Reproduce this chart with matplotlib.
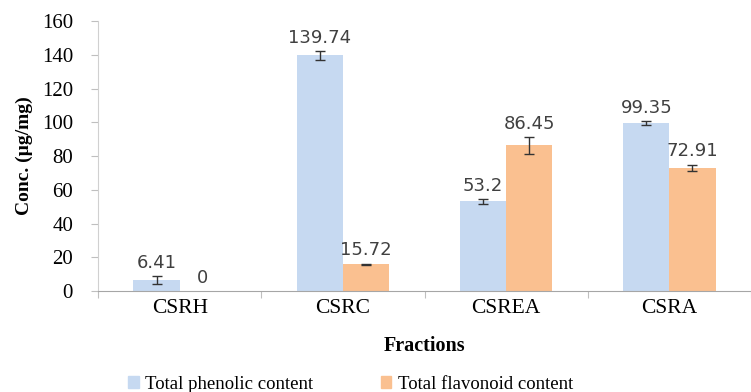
import numpy as np
import matplotlib.pyplot as plt
from matplotlib.patches import Patch

# Fractions and measured contents (ug/mg)
fractions = ["CSRH", "CSRC", "CSREA", "CSRA"]
phenolic = [6.41, 139.74, 53.2, 99.35]
phenolic_err = [2.3, 2.5, 1.5, 1.2]
flavonoid = [0, 15.72, 86.45, 72.91]
flavonoid_err = [0, 0.5, 5.0, 2.0]

blue = "#C6D9F1"
orange = "#FAC090"
serif = "Liberation Serif"

fig = plt.figure(figsize=(7.51, 3.92), dpi=100)
ax = fig.add_axes([0.1305, 0.2577, 0.8695, 0.6883])

x = np.arange(len(fractions))
w = 0.283
ax.bar(x - w / 2, phenolic, w, color=blue)
ax.bar(x + w / 2, flavonoid, w, color=orange)

# error bars only where there is a deviation
ekw = dict(fmt="none", ecolor="#333333", elinewidth=1, capsize=3.5, capthick=1)
for xs, vals, errs in [(x - w / 2, phenolic, phenolic_err), (x + w / 2, flavonoid, flavonoid_err)]:
    keep = [i for i in range(len(errs)) if errs[i] > 0]
    ax.errorbar(xs[keep], [vals[i] for i in keep], yerr=[errs[i] for i in keep], **ekw)

# value labels above each bar
for i in range(len(x)):
    ax.text(x[i] - w / 2, phenolic[i] + phenolic_err[i] + 2.5, f"{phenolic[i]:g}",
            ha="center", va="bottom", fontsize=13, color="#404040")
    ax.text(x[i] + w / 2, flavonoid[i] + flavonoid_err[i] + 2.5, f"{flavonoid[i]:g}",
            ha="center", va="bottom", fontsize=13, color="#404040")

ax.set_xlim(-0.5, 3.434)
ax.set_ylim(0, 160)
ax.set_yticks(np.arange(0, 161, 20))
ax.set_xticks(np.arange(-0.5, 4, 1))
ax.set_xticklabels([])
ax.set_xticks(x, minor=True)
ax.set_xticklabels(fractions, minor=True, fontfamily=serif, fontsize=15.5)
ax.tick_params(axis="x", which="minor", length=0, pad=6)
ax.tick_params(axis="x", which="major", length=5, color="#BFBFBF", direction="out")
ax.tick_params(axis="y", length=5, color="#BFBFBF", labelsize=15, pad=13)
for lab in ax.get_yticklabels():
    lab.set_fontfamily(serif)

for s in ["top", "right"]:
    ax.spines[s].set_visible(False)
ax.spines["left"].set_color("#D0D0D0")
ax.spines["bottom"].set_color("#A6A6A6")

ax.set_ylabel("Conc. (µg/mg)", fontfamily=serif, fontweight="bold", fontsize=14, labelpad=6)
ax.set_xlabel("Fractions", fontfamily=serif, fontweight="bold", fontsize=14.5, labelpad=13)

handles = [Patch(color=blue), Patch(color=orange)]
fig.legend(handles, ["Total phenolic content", "Total flavonoid content"],
           loc="center", bbox_to_anchor=(0.467, 0.02), ncol=2, frameon=False,
           handlelength=0.55, handleheight=0.55, handletextpad=0.35, columnspacing=3.6,
           prop=dict(family=serif, size=13.5))

fig.savefig("out.png", dpi=100)
